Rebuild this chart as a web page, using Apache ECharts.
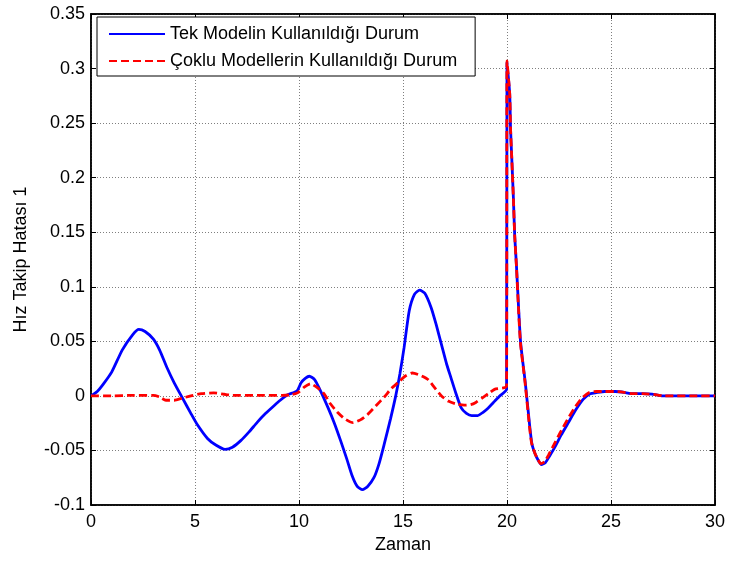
<!DOCTYPE html>
<html>
<head>
<meta charset="utf-8">
<script src="https://cdn.jsdelivr.net/npm/echarts@6/dist/echarts.min.js"></script>
<style>
html,body{margin:0;padding:0;background:#fff;}
#chart{width:729px;height:563px;}
</style>
</head>
<body>
<div id="chart"></div>
<script>
// ---- data ----
const seriesNames = ['Tek Modelin Kullanıldığı Durum', 'Çoklu Modellerin Kullanıldığı Durum'];
const xTicks = [0, 5, 10, 15, 20, 25, 30];
const yTicks = [-0.1, -0.05, 0, 0.05, 0.1, 0.15, 0.2, 0.25, 0.3, 0.35];
const axisNames = { x: 'Zaman', y: 'Hız Takip Hatası 1' };

// [time, value] pairs
const tekModel = [
  [0,0],[0.3,0.004],[0.6,0.011],[1.0,0.022],[1.5,0.042],[2.0,0.056],[2.3,0.061],[2.6,0.059],
  [3.0,0.052],[3.3,0.042],[3.65,0.026],[4.0,0.012],[4.4,-0.002],[4.8,-0.016],[5.1,-0.026],
  [5.6,-0.039],[6.0,-0.045],[6.45,-0.049],[6.8,-0.047],[7.2,-0.041],[7.6,-0.033],[8.0,-0.024],
  [8.4,-0.016],[8.8,-0.009],[9.1,-0.004],[9.45,0.001],[9.9,0.0045],[10.1,0.012],[10.3,0.016],
  [10.5,0.018],[10.75,0.015],[11.0,0.006],[11.4,-0.011],[11.7,-0.025],[12.0,-0.041],[12.3,-0.058],
  [12.55,-0.073],[12.8,-0.083],[13.05,-0.086],[13.3,-0.083],[13.6,-0.075],[13.85,-0.062],
  [14.1,-0.044],[14.4,-0.021],[14.65,0.0],[14.85,0.02],[15.05,0.044],[15.3,0.078],[15.55,0.093],
  [15.8,0.097],[16.05,0.094],[16.35,0.081],[16.6,0.065],[16.85,0.047],[17.1,0.029],[17.3,0.017],
  [17.55,0.002],[17.8,-0.011],[18.05,-0.016],[18.3,-0.018],[18.6,-0.018],[18.85,-0.015],
  [19.1,-0.011],[19.4,-0.005],[19.65,0.0],[19.98,0.006],[20.0,0.305],[20.13,0.277],[20.17,0.245],
  [20.24,0.213],[20.31,0.18],[20.37,0.147],[20.45,0.121],[20.65,0.05],[20.88,0.012],[21.1,-0.029],
  [21.2,-0.044],[21.35,-0.053],[21.5,-0.059],[21.65,-0.063],[21.85,-0.061],[22.05,-0.055],
  [22.3,-0.047],[22.6,-0.036],[22.95,-0.0245],[23.3,-0.013],[23.67,-0.003],[24.0,0.002],
  [24.3,0.003],[24.7,0.004],[25.2,0.004],[25.7,0.003],[26.0,0.002],[26.5,0.002],[27.2,0.001],
  [27.5,0.0],[28,0],[29,0],[30,0]
];
const cokluModel = [
  [0,0],[1,0],[2,0.0005],[3,0.0005],[3.3,-0.001],[3.6,-0.004],[4.0,-0.004],[4.4,-0.002],
  [4.8,0],[5.3,0.002],[5.9,0.0028],[6.4,0.0015],[6.8,0.0005],[8,0.0005],[9.2,0.0005],[9.6,0.001],
  [9.95,0.003],[10.25,0.008],[10.55,0.011],[10.85,0.008],[11.2,0.002],[11.5,-0.007],[11.85,-0.015],
  [12.2,-0.021],[12.6,-0.0245],[12.95,-0.022],[13.3,-0.017],[13.7,-0.009],[14.1,-0.001],
  [14.45,0.007],[14.75,0.012],[15.1,0.018],[15.45,0.021],[15.8,0.019],[16.2,0.015],[16.5,0.008],
  [16.85,0.0],[17.2,-0.005],[17.6,-0.0076],[17.95,-0.0085],[18.25,-0.008],[18.5,-0.006],
  [18.8,-0.002],[19.1,0.002],[19.4,0.006],[19.98,0.009],[20.0,0.307],[20.13,0.277],[20.17,0.245],
  [20.24,0.213],[20.31,0.18],[20.37,0.147],[20.45,0.12],[20.64,0.05],[20.87,0.012],[21.08,-0.028],
  [21.18,-0.043],[21.33,-0.052],[21.48,-0.058],[21.62,-0.062],[21.82,-0.06],[22.0,-0.054],
  [22.25,-0.045],[22.55,-0.034],[22.9,-0.022],[23.25,-0.011],[23.6,-0.002],[23.95,0.003],
  [24.3,0.004],[24.7,0.004],[25.2,0.004],[25.7,0.003],[26.0,0.002],[26.5,0.002],[27.2,0.001],
  [27.5,0.0],[28,0],[29,0],[30,0]
];

const FONT = 'Liberation Sans, Arial, sans-serif';
const chart = echarts.init(document.getElementById('chart'), null, { renderer: 'canvas' });

const gridLine = { show: true, lineStyle: { color: '#7f7f7f', type: [1, 2], width: 1 } };

chart.setOption({
  animation: false,
  backgroundColor: '#ffffff',
  grid: { left: 91, right: 14, top: 14, bottom: 58, show: true, borderColor: '#000', borderWidth: 1.5, backgroundColor: 'transparent' },
  legend: {
    data: seriesNames,
    orient: 'vertical',
    left: 97, top: 17,
    padding: [7, 18, 5, 11],
    itemWidth: 56, itemHeight: 14, itemGap: 7,
    backgroundColor: '#ffffff',
    borderColor: '#000', borderWidth: 1,
    itemStyle: { color: 'rgba(0,0,0,0)', borderColor: 'rgba(0,0,0,0)', borderWidth: 0 },
    textStyle: { fontFamily: FONT, fontSize: 18, color: '#000', lineHeight: 20 }
  },
  xAxis: [{
    type: 'value', min: xTicks[0], max: xTicks[xTicks.length - 1], interval: xTicks[1] - xTicks[0],
    name: axisNames.x, nameLocation: 'middle', nameGap: 28,
    nameTextStyle: { fontFamily: FONT, fontSize: 18, color: '#000' },
    axisLine: { show: true, onZero: false, lineStyle: { color: '#000', width: 1.5 } },
    axisTick: { show: true, inside: true, length: 5, lineStyle: { color: '#000' } },
    axisLabel: { fontFamily: FONT, fontSize: 18, color: '#000', margin: 8 },
    splitLine: gridLine
  }, {
    type: 'value', position: 'top', min: xTicks[0], max: xTicks[xTicks.length - 1], interval: xTicks[1] - xTicks[0],
    axisLine: { show: true, onZero: false, lineStyle: { color: '#000', width: 1.5 } },
    axisTick: { show: true, inside: true, length: 5, lineStyle: { color: '#000' } },
    axisLabel: { show: false }, splitLine: { show: false }
  }],
  yAxis: [{
    type: 'value', min: yTicks[0], max: yTicks[yTicks.length - 1], interval: 0.05,
    name: axisNames.y, nameLocation: 'middle', nameGap: 61,
    nameTextStyle: { fontFamily: FONT, fontSize: 18, color: '#000' },
    axisLine: { show: true, onZero: false, lineStyle: { color: '#000', width: 1.5 } },
    axisTick: { show: true, inside: true, length: 5, lineStyle: { color: '#000' } },
    axisLabel: { fontFamily: FONT, fontSize: 18, color: '#000', margin: 6 },
    splitLine: gridLine
  }, {
    type: 'value', position: 'right', min: yTicks[0], max: yTicks[yTicks.length - 1], interval: 0.05,
    axisLine: { show: true, onZero: false, lineStyle: { color: '#000', width: 1.5 } },
    axisTick: { show: true, inside: true, length: 5, lineStyle: { color: '#000' } },
    axisLabel: { show: false }, splitLine: { show: false }
  }],
  series: [{
    name: seriesNames[0], type: 'line', data: tekModel, symbol: 'none', smooth: 0.2,
    lineStyle: { color: '#0000ff', width: 2.8 }, itemStyle: { color: '#0000ff' }, z: 2
  }, {
    name: seriesNames[1], type: 'line', data: cokluModel, symbol: 'none', smooth: 0.2,
    lineStyle: { color: '#ff0000', width: 2.8, type: [8, 4] }, itemStyle: { color: '#ff0000' }, z: 3
  }]
});
</script>
</body>
</html>
